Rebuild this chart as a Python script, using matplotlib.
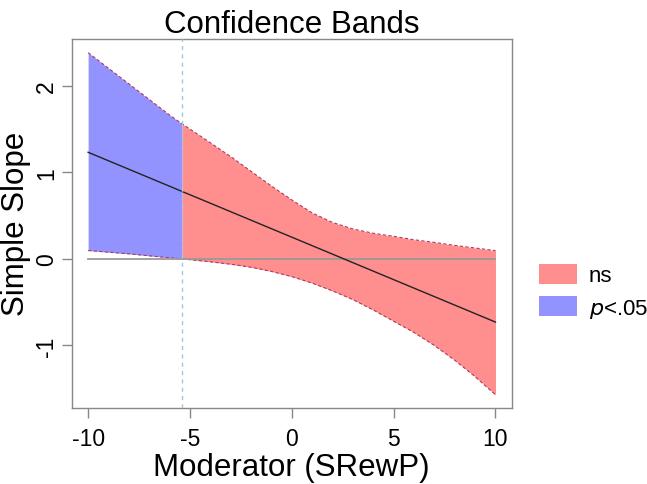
import matplotlib
matplotlib.use("Agg")
import matplotlib.pyplot as plt
from matplotlib.patches import Patch
import numpy as np

plt.rcParams['font.family'] = ['Liberation Sans', 'DejaVu Sans']

# Moderator values and read-off estimates
moderator = [-10, -8, -6, -5.4, -4, -3, -2, -1, 0, 1, 2, 3, 4, 5, 6, 7, 8, 9, 10]
slope_est = [1.23, 1.034, 0.838, 0.779, 0.642, 0.544, 0.446, 0.348, 0.25, 0.152,
             0.054, -0.044, -0.142, -0.24, -0.338, -0.436, -0.534, -0.632, -0.73]
upper_ci = [2.38, 2.02, 1.66, 1.56, 1.34, 1.18, 1.01, 0.84, 0.68, 0.53,
            0.42, 0.345, 0.295, 0.26, 0.22, 0.19, 0.155, 0.125, 0.095]
lower_ci = [0.096, 0.058, 0.012, 0.0, -0.034, -0.062, -0.097, -0.145, -0.205, -0.28,
            -0.37, -0.47, -0.59, -0.72, -0.85, -1.0, -1.17, -1.36, -1.57]
jn_point = -5.4
legend_labels = ["ns", "$p$<.05"]
x_ticks = [-10, -5, 0, 5, 10]
y_ticks = [-1, 0, 1, 2]

col_ns = '#FF8F8F'
col_sig = '#9393FF'

x = np.array(moderator)
up = np.array(upper_ci)
lo = np.array(lower_ci)
est = np.array(slope_est)

fig = plt.figure(figsize=(6.47, 4.85), dpi=100)
ax = fig.add_axes([0.111, 0.157, 0.680, 0.761])

sig = x <= jn_point
ns = x >= jn_point
ax.fill_between(x, lo, up, where=sig, color=col_sig, lw=0, interpolate=False)
ax.fill_between(x, lo, up, where=ns, color=col_ns, lw=0, interpolate=False)
ax.plot(x, up, color='#b03a5a', lw=0.8, ls=(0, (3, 2)))
ax.plot(x, lo, color='#b03a5a', lw=0.8, ls=(0, (3, 2)))

ax.plot([x.min(), x.max()], [0, 0], color='#9a9a9a', lw=1.3, zorder=3)
ax.plot(x, est, color='#222222', lw=1.0, zorder=4)
ax.axvline(jn_point, color='#9cc8e6', lw=1.0, ls=(0, (3, 3)), zorder=5)

ax.set_xlim(-10.8, 10.8)
ax.set_ylim(-1.72, 2.54)
ax.set_xticks(x_ticks)
ax.set_xticklabels([str(t) for t in x_ticks])
ax.set_yticks(y_ticks)
ax.set_yticklabels([str(t) for t in y_ticks], rotation=90, va='center')
for s in ax.spines.values():
    s.set_color('#888888')
    s.set_linewidth(1.0)
ax.tick_params(axis='both', colors='#888888', labelcolor='black', length=7, width=1.0, labelsize=16.5)
ax.tick_params(axis='x', pad=7)
ax.tick_params(axis='y', pad=3)

ax.set_xlabel("Moderator (SRewP)", fontsize=22.5, labelpad=1)
ax.set_ylabel("Simple Slope", fontsize=22.5, labelpad=3)
ax.set_title("Confidence Bands", fontsize=22.5, pad=4)

handles = [Patch(facecolor=col_ns, edgecolor='none'), Patch(facecolor=col_sig, edgecolor='none')]
fig.legend(handles, legend_labels, loc='center left', bbox_to_anchor=(0.833, 0.396),
           frameon=False, fontsize=16, handlelength=1.7, handleheight=1.0, borderpad=0,
           borderaxespad=0, labelspacing=0.45, handletextpad=0.55)

fig.savefig("out.png", dpi=100)
